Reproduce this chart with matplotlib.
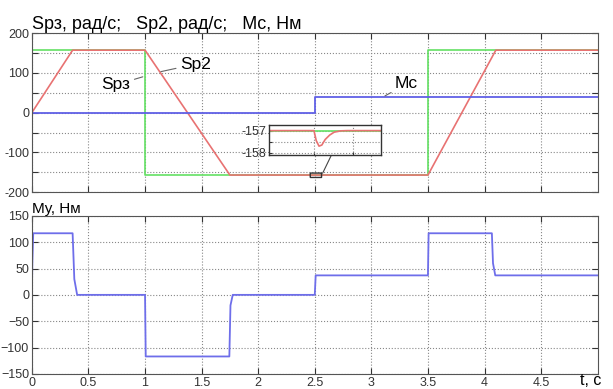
import matplotlib.pyplot as plt
from matplotlib.patches import FancyBboxPatch
import numpy as np

plt.rcParams['font.family'] = ['Liberation Sans', 'DejaVu Sans']

# --- data ---
t_spz = [0, 1, 1, 3.5, 3.5, 5]
spz = [157, 157, -157, -157, 157, 157]

t_sp2 = [0, 0.36, 1, 1.75, 3.5, 4.1, 5]
sp2 = [0, 157, 157, -157, -157, 157, 157]

t_mc = [0, 2.5, 2.5, 5]
mc = [0, 0, 40, 40]

t_my = [0, 0.004, 0.012, 0.36, 0.375, 0.40, 1.0, 1.006, 1.745, 1.755, 1.775,
        2.5, 2.508, 3.5, 3.506, 4.065, 4.075, 4.095, 5]
my = [0, 60, 117, 117, 30, 0, 0, -117, -117, -20, 0,
      0, 37, 37, 117, 117, 60, 37, 37]

# zoomed detail of Sp2 around the load step
t_dip = [2.46, 2.5, 2.502, 2.5045, 2.507, 2.51, 2.514, 2.518, 2.524, 2.53, 2.56]
sp2_dip = [-157, -157, -157.45, -157.7, -157.65, -157.4, -157.2, -157.07, -157.01, -157, -157]
t_zoom = [2.46, 2.56]
spz_zoom = [-157, -157]

green = '#63e063'
red = '#e87272'
blue = '#6060e6'
blue2 = '#6e6eea'

fig = plt.figure(figsize=(6.13, 3.89), dpi=100)
ax1 = fig.add_axes([0.052, 0.506, 0.923, 0.409])
ax2 = fig.add_axes([0.052, 0.039, 0.923, 0.406])

for ax in (ax1, ax2):
    ax.set_xlim(0, 5)
    ax.set_xticks(np.arange(0, 5, 0.5))
    ax.grid(True, linestyle=':', color='#888888', linewidth=0.8)
    ax.tick_params(direction='in', top=True, right=True, length=4,
                   labelsize=9, pad=2, colors='#333333')
    for s in ax.spines.values():
        s.set_color('#555555')

ax1.plot(t_spz, spz, color=green, lw=1.2)
ax1.plot(t_sp2, sp2, color=red, lw=1.2)
ax1.plot(t_mc, mc, color=blue, lw=1.3)
ax1.set_ylim(-200, 200)
ax1.set_yticks(np.arange(-200, 201, 50))
ax1.set_yticklabels(['-200', '', '-100', '', '0', '', '100', '', '200'])
ax1.set_xticklabels([])
ax1.set_title('Sрз, рад/с;   Sр2, рад/с;   Mс, Нм', loc='left', fontsize=13, pad=3)

lead = dict(arrowstyle='-', color='#666666', lw=0.8, shrinkA=1, shrinkB=0)
ax1.annotate('Sрз', xy=(0.98, 90), xytext=(0.87, 70), fontsize=12.5,
             ha='right', va='center', arrowprops=lead)
ax1.annotate('Sр2', xy=(1.14, 103), xytext=(1.31, 122), fontsize=12.5,
             ha='left', va='center', arrowprops=lead)
ax1.annotate('Mс', xy=(3.12, 42), xytext=(3.21, 72), fontsize=12.5,
             ha='left', va='center', arrowprops=lead)

# marker of the zoomed region
ax1.add_patch(FancyBboxPatch((t_zoom[0], -163), t_zoom[1] - t_zoom[0], 11,
                             boxstyle='round,pad=0,rounding_size=0.01',
                             fill=False, ec='#333333', lw=1.0, zorder=5))
ax1.plot([2.57, 2.65], [-152, -105], color='#444444', lw=0.8)

axi = fig.add_axes([0.439, 0.6015, 0.183, 0.077])
axi.plot(t_zoom, spz_zoom, color=green, lw=1.2)
axi.plot(t_dip, sp2_dip, color=red, lw=1.2)
axi.set_xlim(t_zoom)
axi.set_ylim(-158.1, -156.75)
axi.set_xticks([2.5, 2.535])
axi.set_xticklabels([])
axi.set_yticks([-158, -157.5, -157])
axi.set_yticklabels(['-158', '', '-157'])
axi.grid(True, linestyle=':', color='#888888', linewidth=0.8)
axi.tick_params(direction='in', length=2, labelsize=9, pad=2, colors='#333333')
for s in axi.spines.values():
    s.set_color('#333333')
    s.set_linewidth(1.0)

ax2.plot(t_my, my, color=blue2, lw=1.3)
ax2.set_ylim(-150, 150)
ax2.set_yticks(np.arange(-150, 151, 50))
ax2.set_xticklabels(['0', '0.5', '1', '1.5', '2', '2.5', '3', '3.5', '4', '4.5'])
ax2.set_title('Mу, Нм', loc='left', fontsize=11, pad=2)
fig.text(0.963, 0.003, 't, c', fontsize=11.5, ha='center', va='bottom')

fig.savefig('out.png', dpi=100)
